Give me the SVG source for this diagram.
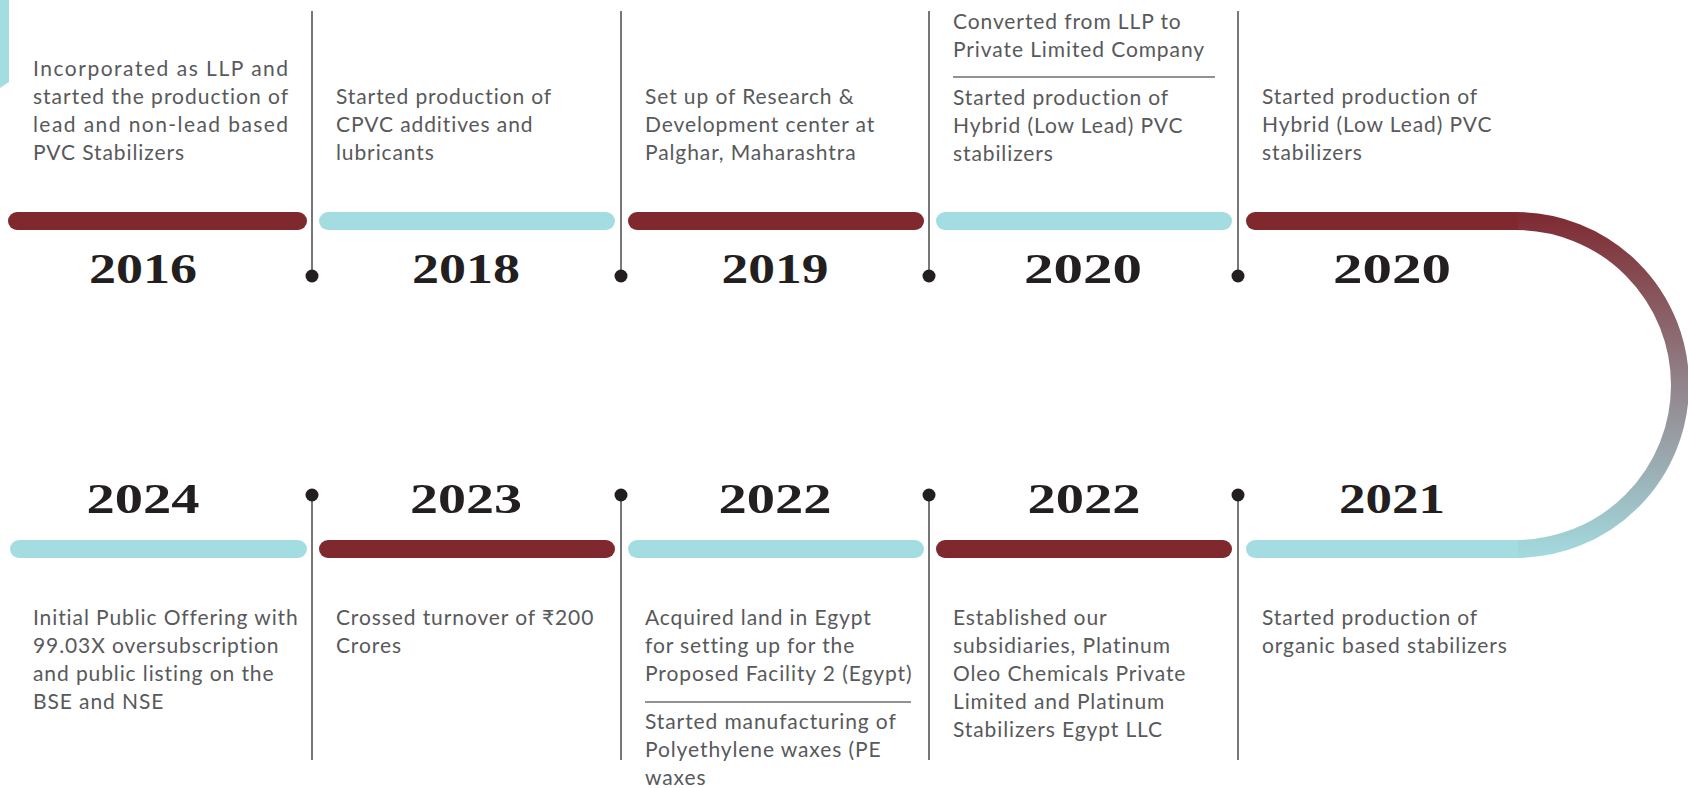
<svg xmlns="http://www.w3.org/2000/svg" width="1688" height="788" viewBox="0 0 1688 788">
  <defs>
    <linearGradient id="turnGrad" gradientUnits="userSpaceOnUse" x1="0" y1="212" x2="0" y2="558">
      <stop offset="0" stop-color="#7e2930"/>
      <stop offset="0.5" stop-color="#92848b"/>
      <stop offset="1" stop-color="#a3dbdf"/>
    </linearGradient>
    <style>
      .red { fill: #7f282e; }
      .teal { fill: #a4dde1; }
      .year { font-family: "Liberation Serif", "DejaVu Serif", serif; font-weight: bold; font-size: 42px; fill: #231f20; text-anchor: middle; font-variant-numeric: oldstyle-nums; }
      .txt { font-family: Lato, "DejaVu Sans", sans-serif; font-size: 21px; fill: #58595b; letter-spacing: 0.9px; }
      .stem { stroke: #4a4a4a; stroke-width: 1.5; fill: none; }
      .dot { fill: #231f20; }
      .rule { stroke: #6d6e71; stroke-width: 1.3; }
    </style>
  </defs>

  <rect width="1688" height="788" fill="#ffffff"/>

  <!-- tail of the curve coming in from the left edge -->
  <polygon class="teal" points="0,0 9,0 9,82 0,88"/>

  <!-- connectors: stems with end dots and the return curve -->
  <g id="connectors">
    <line class="stem" x1="312" y1="11" x2="312" y2="276"/>
    <line class="stem" x1="621" y1="11" x2="621" y2="276"/>
    <line class="stem" x1="929" y1="11" x2="929" y2="276"/>
    <line class="stem" x1="1238" y1="11" x2="1238" y2="276"/>
    <circle class="dot" cx="312" cy="276" r="6.5"/>
    <circle class="dot" cx="621" cy="276" r="6.5"/>
    <circle class="dot" cx="929" cy="276" r="6.5"/>
    <circle class="dot" cx="1238" cy="276" r="6.5"/>

    <line class="stem" x1="312" y1="495" x2="312" y2="760"/>
    <line class="stem" x1="621" y1="495" x2="621" y2="760"/>
    <line class="stem" x1="929" y1="495" x2="929" y2="760"/>
    <line class="stem" x1="1238" y1="495" x2="1238" y2="760"/>
    <circle class="dot" cx="312" cy="495" r="6.5"/>
    <circle class="dot" cx="621" cy="495" r="6.5"/>
    <circle class="dot" cx="929" cy="495" r="6.5"/>
    <circle class="dot" cx="1238" cy="495" r="6.5"/>

    <path d="M1516,221 A164,164 0 0 1 1516,549" fill="none" stroke="url(#turnGrad)" stroke-width="18"/>
  </g>

  <!-- upper row -->
  <g id="node-2016">
    <rect class="red" x="8" y="212" width="299" height="18" rx="9"/>
    <text class="year" x="143" y="283" textLength="108" lengthAdjust="spacingAndGlyphs">2016</text>
    <text class="txt" x="33" y="76" textLength="256" lengthAdjust="spacing">Incorporated as LLP and</text>
    <text class="txt" x="33" y="104" textLength="256" lengthAdjust="spacing">started the production of</text>
    <text class="txt" x="33" y="132" textLength="256" lengthAdjust="spacing">lead and non-lead based</text>
    <text class="txt" x="33" y="160">PVC Stabilizers</text>
  </g>

  <g id="node-2018">
    <rect class="teal" x="319" y="212" width="296" height="18" rx="9"/>
    <text class="year" x="466" y="283" textLength="108" lengthAdjust="spacingAndGlyphs">2018</text>
    <text class="txt" x="336" y="104">Started production of</text>
    <text class="txt" x="336" y="132">CPVC additives and</text>
    <text class="txt" x="336" y="160">lubricants</text>
  </g>

  <g id="node-2019">
    <rect class="red" x="628" y="212" width="296" height="18" rx="9"/>
    <text class="year" x="775" y="283" textLength="107" lengthAdjust="spacingAndGlyphs">2019</text>
    <text class="txt" x="645" y="104">Set up of Research &amp;</text>
    <text class="txt" x="645" y="132">Development center at</text>
    <text class="txt" x="645" y="160">Palghar, Maharashtra</text>
  </g>

  <g id="node-2020a">
    <rect class="teal" x="936" y="212" width="296" height="18" rx="9"/>
    <text class="year" x="1083" y="283" textLength="118" lengthAdjust="spacingAndGlyphs">2020</text>
    <text class="txt" x="953" y="29">Converted from LLP to</text>
    <text class="txt" x="953" y="57">Private Limited Company</text>
    <line class="rule" x1="953" y1="77" x2="1215" y2="77"/>
    <text class="txt" x="953" y="105">Started production of</text>
    <text class="txt" x="953" y="133">Hybrid (Low Lead) PVC</text>
    <text class="txt" x="953" y="161">stabilizers</text>
  </g>

  <g id="node-2020b">
    <path class="red" d="M1255,212 H1518 V230 H1255 A9,9 0 0 1 1255,212 Z"/>
    <text class="year" x="1392" y="283" textLength="118" lengthAdjust="spacingAndGlyphs">2020</text>
    <text class="txt" x="1262" y="104">Started production of</text>
    <text class="txt" x="1262" y="132">Hybrid (Low Lead) PVC</text>
    <text class="txt" x="1262" y="160">stabilizers</text>
  </g>

  <!-- lower row -->
  <g id="node-2021">
    <path class="teal" d="M1255,540 H1518 V558 H1255 A9,9 0 0 1 1255,540 Z"/>
    <text class="year" x="1392" y="513" textLength="106" lengthAdjust="spacingAndGlyphs">2021</text>
    <text class="txt" x="1262" y="625">Started production of</text>
    <text class="txt" x="1262" y="653">organic based stabilizers</text>
  </g>

  <g id="node-2022b">
    <rect class="red" x="936" y="540" width="296" height="18" rx="9"/>
    <text class="year" x="1084" y="513" textLength="113" lengthAdjust="spacingAndGlyphs">2022</text>
    <text class="txt" x="953" y="625">Established our</text>
    <text class="txt" x="953" y="653">subsidiaries, Platinum</text>
    <text class="txt" x="953" y="681">Oleo Chemicals Private</text>
    <text class="txt" x="953" y="709">Limited and Platinum</text>
    <text class="txt" x="953" y="737">Stabilizers Egypt LLC</text>
  </g>

  <g id="node-2022a">
    <rect class="teal" x="628" y="540" width="296" height="18" rx="9"/>
    <text class="year" x="775" y="513" textLength="113" lengthAdjust="spacingAndGlyphs">2022</text>
    <text class="txt" x="645" y="625">Acquired land in Egypt</text>
    <text class="txt" x="645" y="653">for setting up for the</text>
    <text class="txt" x="645" y="681">Proposed Facility 2 (Egypt)</text>
    <line class="rule" x1="645" y1="702" x2="911" y2="702"/>
    <text class="txt" x="645" y="729">Started manufacturing of</text>
    <text class="txt" x="645" y="757">Polyethylene waxes (PE</text>
    <text class="txt" x="645" y="785">waxes</text>
  </g>

  <g id="node-2023">
    <rect class="red" x="319" y="540" width="296" height="18" rx="9"/>
    <text class="year" x="466" y="513" textLength="112" lengthAdjust="spacingAndGlyphs">2023</text>
    <text class="txt" x="336" y="625">Crossed turnover of ₹200</text>
    <text class="txt" x="336" y="653">Crores</text>
  </g>

  <g id="node-2024">
    <rect class="teal" x="10" y="540" width="297" height="18" rx="9"/>
    <text class="year" x="143" y="513" textLength="113" lengthAdjust="spacingAndGlyphs">2024</text>
    <text class="txt" x="33" y="625">Initial Public Offering with</text>
    <text class="txt" x="33" y="653">99.03X oversubscription</text>
    <text class="txt" x="33" y="681">and public listing on the</text>
    <text class="txt" x="33" y="709">BSE and NSE</text>
  </g>
</svg>
